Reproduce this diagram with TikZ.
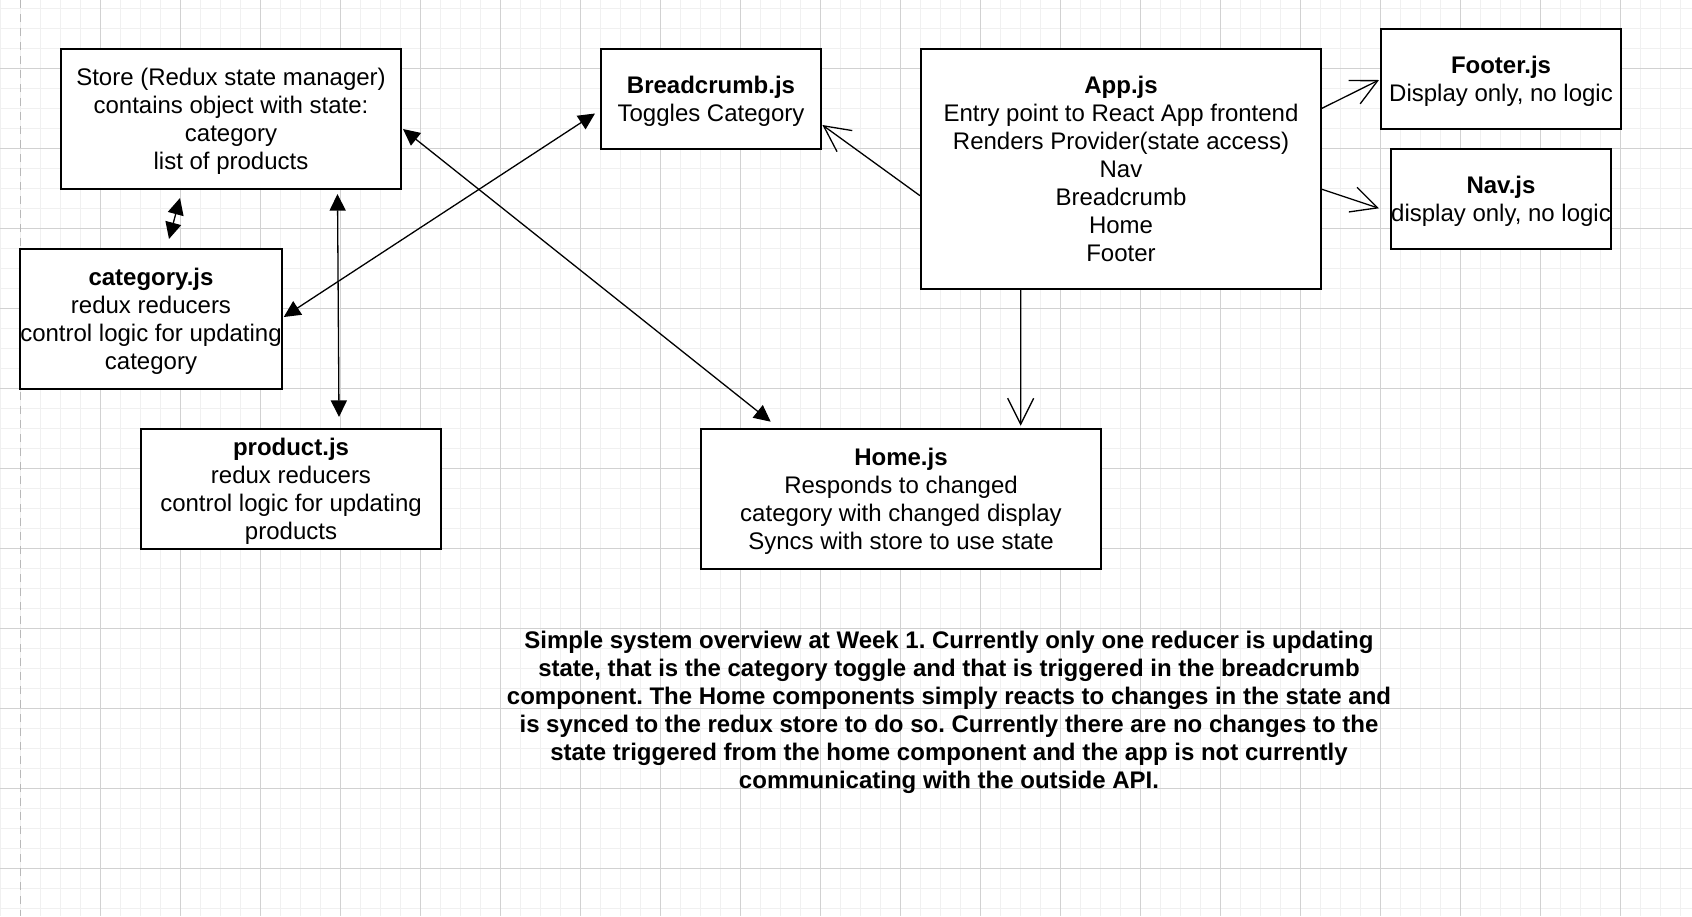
\documentclass[tikz,border=0pt]{standalone}
\usepackage{fontspec}
\setmainfont{Liberation Sans}
\usetikzlibrary{arrows.meta,calc}
\frenchspacing

\begin{document}
\begin{tikzpicture}[x=0.5pt,y=-0.5pt,
    box/.style={draw,line width=1pt,fill=white,align=center,inner sep=0pt,
      font=\fontsize{12}{14}\selectfont,text depth=-0.5pt},
    dbl/.style={line width=0.65pt,{Triangle[length=8.3pt,width=8pt]}-{Triangle[length=8.3pt,width=8pt]}},
    opn/.style={line width=0.65pt,-{Straight Barb[length=13pt,width=13pt]}},
    minorgrid/.style={color=black!6,line width=0.5pt},
    majorgrid/.style={color=black!18,line width=0.5pt}]
      \useasboundingbox(0,0)rectangle(1692,916);
      \fill[white](0,0)rectangle(1692,916);
      \foreach \gx in {0,20,...,1680} \draw[minorgrid](\gx+0.7,0)--(\gx+0.7,916);
      \foreach \gy in {8,28,...,908} \draw[minorgrid](0,\gy+0.3)--(1692,\gy+0.3);
      \foreach \gx in {100,180,...,1660} \draw[majorgrid](\gx+0.7,0)--(\gx+0.7,916);
      \foreach \gy in {68,148,...,868} \draw[majorgrid](0,\gy+0.3)--(1692,\gy+0.3);
      \draw[color=black!28,line width=0.7pt,dash pattern=on 4pt off 3pt](20.7,0)--(20.7,916);

      \node[box,minimum width=170pt,minimum height=70pt](store) at (231,119)
        {Store (Redux state manager)\\contains object with state:\\category\\list of products};
      \node[box,minimum width=130pt,minimum height=70pt](cat) at (151,319)
        {\textbf{category.js}\\redux reducers\\control logic for updating\\category};
      \node[box,minimum width=150pt,minimum height=60pt](prod) at (291,489)
        {\textbf{product.js}\\redux reducers\\control logic for updating\\products};
      \node[box,minimum width=110pt,minimum height=50pt](bread) at (711,99)
        {\textbf{Breadcrumb.js}\\Toggles Category};
      \node[box,minimum width=200pt,minimum height=120pt](app) at (1121,169)
        {\textbf{App.js}\\Entry point to React App frontend\\Renders Provider(state access)\\Nav\\Breadcrumb\\Home\\Footer};
      \node[box,minimum width=120pt,minimum height=50pt](footer) at (1501,79)
        {\textbf{Footer.js}\\Display only, no logic};
      \node[box,minimum width=110pt,minimum height=50pt](nav) at (1501,199)
        {\textbf{Nav.js}\\display only, no logic};
      \node[box,minimum width=200pt,minimum height=70pt](home) at (901,499)
        {\textbf{Home.js}\\Responds to changed\\category with changed display\\Syncs with store to use state};
      \node[align=center,inner sep=0pt,font=\fontsize{12}{14}\selectfont\bfseries](note) at (949,712)
        {Simple system overview at Week 1. Currently only one reducer is updating\\
         state, that is the category toggle and that is triggered in the breadcrumb\\
         component. The Home components simply reacts to changes in the state and\\
         is synced to the redux store to do so. Currently there are no changes to the\\
         state triggered from the home component and the app is not currently\\
         communicating with the outside API.};

      \draw[dbl]([shift={(-51,8)}]store.south)--([shift={(18,-9)}]cat.north);
      \draw[dbl]([shift={(106.5,4)}]store.south)--([shift={(48,-11)}]prod.north);
      \draw[dbl]([shift={(1,-2)}]cat.east)--([shift={(-5,14.5)}]bread.west);
      \draw[dbl]([shift={(1,10)}]store.east)--([shift={(-130.3,-6.3)}]home.north);
      \draw[opn]([shift={(0,26.7)}]app.west)--([shift={(0.4,26)}]bread.east);
      \draw[opn]([shift={(0,-60.7)}]app.east)--([shift={(-1,1)}]footer.west);
      \draw[opn]([shift={(0,20.3)}]app.east)--([shift={(-11,9.3)}]nav.west);
      \draw[opn]([shift={(-100.3,0)}]app.south)--([shift={(119.7,-2.3)}]home.north);
\end{tikzpicture}
\end{document}
